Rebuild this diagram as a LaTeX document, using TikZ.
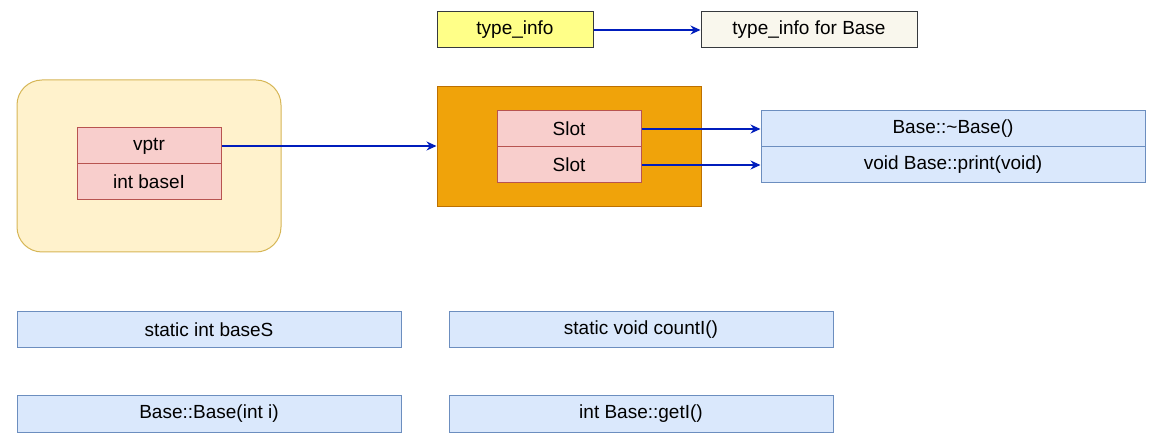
\documentclass[tikz,border=0pt]{standalone}
\usepackage{fontspec}
\setmainfont{Liberation Sans}
\usetikzlibrary{arrows.meta}
\definecolor{notefill}{HTML}{FFFF88}
\definecolor{noteline}{HTML}{36393D}
\definecolor{infofill}{HTML}{F9F7ED}
\definecolor{objfill}{HTML}{FFF2CC}
\definecolor{objline}{HTML}{D6B656}
\definecolor{redfill}{HTML}{F8CECC}
\definecolor{redline}{HTML}{B85450}
\definecolor{tblfill}{HTML}{F0A30A}
\definecolor{tblline}{HTML}{BD7000}
\definecolor{bluefill}{HTML}{DAE8FC}
\definecolor{blueline}{HTML}{6C8EBF}
\definecolor{ptrline}{HTML}{001DBC}

\begin{document}
\begin{tikzpicture}[x=1pt,y=-1pt]
\tikzstyle{box} = [rectangle, line width=1pt, inner sep=0pt, minimum height=36pt, font=\fontsize{19}{22}\selectfont]
\tikzstyle{field} = [box, draw=redline, fill=redfill, minimum width=144pt]
\tikzstyle{func} = [box, draw=blueline, fill=bluefill, minimum width=384pt]
\tikzstyle{note} = [box, draw=noteline, fill=notefill]
\tikzstyle{ptr} = [-{Stealth[length=10pt,width=9pt]}, draw=ptrline, line width=1.2pt]

\useasboundingbox (0,0) rectangle (1160,446);

% the object and its vtable
\node[box, draw=objline, fill=objfill, minimum width=264pt, minimum height=172pt, rounded corners=25pt] (obj) at (149,166) {};
\node[field] (vptr) at (149,146) {vptr};
\node[field] (baseI) at (149,182) {int baseI};
\node[box, draw=tblline, fill=tblfill, minimum width=264pt, minimum height=120pt] (vtbl) at (569,147) {};
\node[field] (slotA) at (569,129) {Slot};
\node[field] (slotB) at (569,165) {Slot};
\node[func] (dtor) at (953,129) {Base::\textasciitilde Base()};
\node[func] (print) at (953,165) {void Base::print(void)};

% rtti
\node[note, minimum width=156pt] (ti) at (515,30) {type\_info};
\node[note, fill=infofill, minimum width=216pt] (tiBase) at (809,30) {type\_info for Base};

% static members and the rest
\node[func] (baseS) at (209,330) {static int baseS};
\node[func] (countI) at (641,330) {static void countI()};
\node[func] (ctor) at (209,414) {Base::Base(int i)};
\node[func] (getI) at (641,414) {int Base::getI()};

\draw[ptr] (ti) -- (tiBase);
\draw[ptr] (vptr.east) -- (vptr.east -| vtbl.west);
\draw[ptr] (slotA) -- (dtor);
\draw[ptr] (slotB) -- (print);
\end{tikzpicture}
\end{document}
